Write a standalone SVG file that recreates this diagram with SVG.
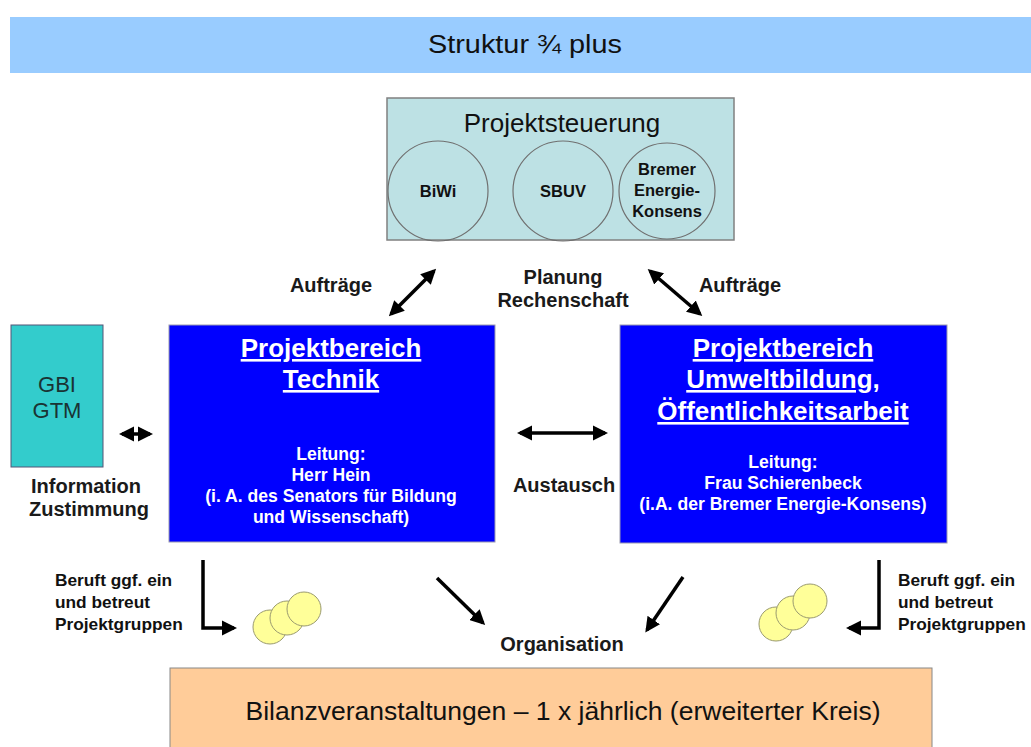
<svg xmlns="http://www.w3.org/2000/svg" width="1031" height="747" viewBox="0 0 1031 747">
<style>
text{font-family:"Liberation Sans",Arial,sans-serif}
.lbl{font-size:20px;font-weight:bold;fill:#1a1a1a;text-anchor:middle}
.small{font-size:17.3px;font-weight:bold;fill:#111}
.wt{fill:#fff;font-weight:bold;text-anchor:middle}
.head{font-size:26px;text-decoration:underline}
.sub{font-size:17.6px}
.circ{fill:none;stroke:#707070;stroke-width:1.2}
.yc{fill:#FFFF99;stroke:#9a9a70;stroke-width:1}
.ar{stroke:#000;stroke-width:3.5;fill:none}
</style>
<defs>
<marker id="ah" viewBox="0 0 10 10" refX="8" refY="5" markerWidth="4.3" markerHeight="4.3" orient="auto-start-reverse" markerUnits="strokeWidth">
<path d="M0,0 L10,5 L0,10 Z" fill="#000"/>
</marker>
</defs>
<rect width="1031" height="747" fill="#fff"/>
<g id="title">
<rect x="10" y="17" width="1021" height="56" fill="#99CCFF"/>
<text x="525" y="53" font-size="26" fill="#111" text-anchor="middle" textLength="194" lengthAdjust="spacingAndGlyphs">Struktur ¾ plus</text>
</g>
<g id="projektsteuerung">
<rect x="387" y="98" width="347" height="142" fill="#BDE1E4" stroke="#808080" stroke-width="1.5"/>
<text x="562" y="132" font-size="26" fill="#111" text-anchor="middle">Projektsteuerung</text>
<circle class="circ" cx="438" cy="191" r="50"/>
<circle class="circ" cx="563" cy="191" r="50"/>
<circle class="circ" cx="667" cy="191" r="48"/>
<text x="438" y="197" font-size="16.5" font-weight="bold" fill="#111" text-anchor="middle">BiWi</text>
<text x="563" y="197" font-size="16.5" font-weight="bold" fill="#111" text-anchor="middle">SBUV</text>
<text x="667" y="175" font-size="16.5" font-weight="bold" fill="#111" text-anchor="middle">Bremer</text>
<text x="667" y="196" font-size="16.5" font-weight="bold" fill="#111" text-anchor="middle">Energie-</text>
<text x="667" y="217" font-size="16.5" font-weight="bold" fill="#111" text-anchor="middle">Konsens</text>
</g>
<g id="gbi">
<rect x="11" y="325" width="92" height="142" fill="#33CCCC" stroke="#557" stroke-width="1"/>
<text x="57" y="392" font-size="22" fill="#1a3333" text-anchor="middle">GBI</text>
<text x="57" y="418" font-size="22" fill="#1a3333" text-anchor="middle">GTM</text>
</g>
<g id="technik">
<rect x="169" y="325" width="326" height="217" fill="#0000FF" stroke="#9a9ab0" stroke-width="1"/>
<text class="wt head" x="331" y="357">Projektbereich</text>
<text class="wt head" x="331" y="388">Technik</text>
<text class="wt sub" x="331" y="460">Leitung:</text>
<text class="wt sub" x="331" y="481">Herr Hein</text>
<text class="wt sub" x="331" y="502">(i. A. des Senators für Bildung</text>
<text class="wt sub" x="331" y="523">und Wissenschaft)</text>
</g>
<g id="umweltbildung">
<rect x="620" y="325" width="327" height="218" fill="#0000FF" stroke="#9a9ab0" stroke-width="1"/>
<text class="wt head" x="783" y="357">Projektbereich</text>
<text class="wt head" x="783" y="388">Umweltbildung,</text>
<text class="wt head" x="783" y="420">Öffentlichkeitsarbeit</text>
<text class="wt sub" x="783" y="468">Leitung:</text>
<text class="wt sub" x="783" y="489">Frau Schierenbeck</text>
<text class="wt sub" x="783" y="510">(i.A. der Bremer Energie-Konsens)</text>
</g>
<g id="bilanz">
<rect x="170" y="668" width="762" height="90" fill="#FFCC99" stroke="#888" stroke-width="1"/>
<text x="563" y="720" font-size="25" fill="#111" text-anchor="middle" textLength="635" lengthAdjust="spacingAndGlyphs">Bilanzveranstaltungen – 1 x jährlich (erweiterter Kreis)</text>
</g>
<g id="projektgruppen-links">
<circle class="yc" cx="270" cy="627" r="17"/>
<circle class="yc" cx="287" cy="618" r="17"/>
<circle class="yc" cx="304" cy="609" r="17"/>
</g>
<g id="projektgruppen-rechts">
<circle class="yc" cx="776" cy="624" r="17"/>
<circle class="yc" cx="793" cy="613" r="17"/>
<circle class="yc" cx="810" cy="601" r="17"/>
</g>
<g id="labels">
<text class="lbl" x="331" y="292">Aufträge</text>
<text class="lbl" x="563" y="284">Planung</text>
<text class="lbl" x="563" y="307">Rechenschaft</text>
<text class="lbl" x="740" y="292">Aufträge</text>
<text class="lbl" x="86" y="493">Information</text>
<text class="lbl" x="89" y="516">Zustimmung</text>
<text class="lbl" x="564" y="492">Austausch</text>
<text class="lbl" x="562" y="651">Organisation</text>
<text class="small" x="55" y="586">Beruft ggf. ein</text>
<text class="small" x="55" y="608">und betreut</text>
<text class="small" x="55" y="630">Projektgruppen</text>
<text class="small" x="898" y="586">Beruft ggf. ein</text>
<text class="small" x="898" y="608">und betreut</text>
<text class="small" x="898" y="630">Projektgruppen</text>
</g>
<g id="connectors">
<line class="ar" x1="391" y1="314" x2="434" y2="271" marker-start="url(#ah)" marker-end="url(#ah)"/>
<line class="ar" x1="650" y1="271" x2="700" y2="314" marker-start="url(#ah)" marker-end="url(#ah)"/>
<line class="ar" x1="520" y1="433" x2="605" y2="433" marker-start="url(#ah)" marker-end="url(#ah)"/>
<line class="ar" x1="122" y1="434" x2="150" y2="434" marker-start="url(#ah)" marker-end="url(#ah)"/>
<polyline class="ar" points="203,560 203,628 234,628" marker-end="url(#ah)"/>
<polyline class="ar" points="879,560 879,628 849,628" marker-end="url(#ah)"/>
<line class="ar" x1="437" y1="578" x2="483" y2="623" marker-end="url(#ah)"/>
<line class="ar" x1="683" y1="577" x2="647" y2="630" marker-end="url(#ah)"/>
</g>
</svg>
